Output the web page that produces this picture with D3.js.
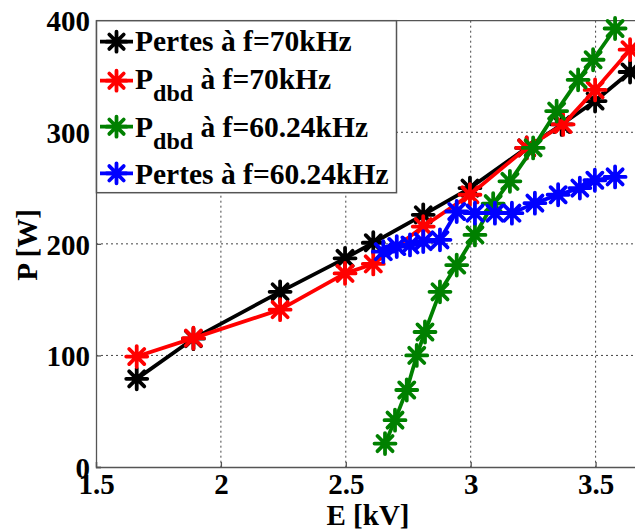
<!DOCTYPE html>
<html><head><meta charset="utf-8">
<script src="https://cdn.jsdelivr.net/npm/d3@7/dist/d3.min.js"></script>
<style>body{margin:0;background:#fff}svg{display:block}</style>
</head><body>
<script>
// data
const pertes70E = [1.663, 1.89, 2.237, 2.497, 2.61, 2.81, 2.997, 3.224, 3.364, 3.498, 3.638];
const pertes70P = [79, 115, 157, 187, 201, 226, 250, 286, 307, 328, 354];
const pdbd70E = [1.663, 1.89, 2.237, 2.497, 2.61, 2.81, 2.997, 3.224, 3.37, 3.498, 3.638];
const pdbd70P = [99, 115.5, 141, 173.5, 182, 215.5, 244, 286, 307, 338, 374];
const pdbd60E = [2.657, 2.697, 2.744, 2.784, 2.817, 2.877, 2.944, 3.017, 3.09, 3.157, 3.25, 3.344, 3.43, 3.49, 3.578];
const pdbd60P = [21, 42, 69, 100, 121, 157, 181, 208, 236, 256, 286, 319, 347, 365, 393];
const pertes60E = [2.65, 2.704, 2.757, 2.81, 2.877, 2.944, 3.017, 3.097, 3.165, 3.257, 3.35, 3.437, 3.497, 3.578];
const pertes60P = [193, 197.6, 199, 202, 203.6, 229, 227.5, 227.5, 227.5, 236.5, 244, 250, 257, 260];
const xTicks = [1.5, 2, 2.5, 3, 3.5];
const yTicks = [0, 100, 200, 300, 400];
const seriesNames = ["Pertes à f=70kHz", "Pdbd à f=70kHz", "Pdbd à f=60.24kHz", "Pertes à f=60.24kHz"];
const seriesColors = ["#000000", "#ff0000", "#008000", "#0000ff"];

const series = [
  {name: "Pertes", sub: null, rest: " à f=70kHz", E: pertes70E, P: pertes70P, color: seriesColors[0]},
  {name: "P", sub: "dbd", rest: " à f=70kHz", E: pdbd70E, P: pdbd70P, color: seriesColors[1]},
  {name: "P", sub: "dbd", rest: " à f=60.24kHz", E: pdbd60E, P: pdbd60P, color: seriesColors[2]},
  {name: "Pertes", sub: null, rest: " à f=60.24kHz", E: pertes60E, P: pertes60P, color: seriesColors[3]}
];

const W = 635, H = 530;
const L = 96, T = 20.7, B = 467;
const x = d3.scaleLinear().domain([1.5, 3.67]).range([L, L + 2.17 * 249.8]);
const y = d3.scaleLinear().domain([0, 400]).range([B, T]);
const font = "'Liberation Serif','Times New Roman',serif";

const svg = d3.select("body").append("svg").attr("width", W).attr("height", H);

// grid
const grid = svg.append("g");
grid.selectAll("line.gx").data(xTicks.filter(t => t > 1.5)).join("line")
  .attr("x1", d => x(d)).attr("x2", d => x(d)).attr("y1", T).attr("y2", B)
  .attr("stroke", "#444").attr("stroke-width", 1).attr("stroke-dasharray", "2,3");
grid.selectAll("line.gy").data(yTicks.filter(t => t > 0 && t < 400)).join("line")
  .attr("x1", L).attr("x2", W + 5).attr("y1", d => y(d)).attr("y2", d => y(d))
  .attr("stroke", "#444").attr("stroke-width", 1).attr("stroke-dasharray", "2,3");

// axes
const xAxis = d3.axisBottom(x).tickValues(xTicks).tickSize(-5).tickPadding(9).tickFormat(d3.format("~g"));
const gx = svg.append("g").attr("transform", `translate(0,${B})`).call(xAxis);
const yAxis = d3.axisLeft(y).tickValues(yTicks).tickSize(-5).tickPadding(6);
const gy = svg.append("g").attr("transform", `translate(${L},0)`).call(yAxis);
[gx, gy].forEach(g => {
  g.select(".domain").attr("stroke", "#555").attr("stroke-width", 1.3);
  g.selectAll(".tick line").attr("stroke", "#555").attr("stroke-width", 1.3);
  g.selectAll(".tick text").attr("font-family", font).attr("font-weight", "bold")
    .attr("font-size", 29).attr("fill", "#000");
});
gx.selectAll(".tick text").attr("dy", "0.62em");
gy.selectAll(".tick text").attr("dy", "0.35em");
// top border
svg.append("line").attr("x1", L).attr("x2", W + 5).attr("y1", T).attr("y2", T)
  .attr("stroke", "#555").attr("stroke-width", 1.3);

// star marker
function starPath(r) {
  const d = r * 0.72;
  return `M${-r},0L${r},0M0,${-r}L0,${r}M${-d},${-d}L${d},${d}M${-d},${d}L${d},${-d}`;
}

const plot = svg.append("g");
const line = d3.line().x(d => x(d[0])).y(d => y(d[1]));
series.forEach(s => {
  const pts = s.E.map((e, i) => [e, s.P[i]]);
  const g = plot.append("g");
  g.append("path").datum(pts).attr("d", line).attr("fill", "none")
    .attr("stroke", s.color).attr("stroke-width", 3.8).attr("stroke-linejoin", "round");
  g.selectAll("path.m").data(pts).join("path").attr("class", "m")
    .attr("transform", d => `translate(${x(d[0])},${y(d[1])})`)
    .attr("d", starPath(10.5)).attr("stroke", s.color).attr("stroke-width", 3.8)
    .attr("stroke-linecap", "round").attr("fill", "none");
});

// legend
const lg = svg.append("g");
lg.append("rect").attr("x", L + 0.5).attr("y", T).attr("width", 300).attr("height", 172)
  .attr("fill", "#fff").attr("stroke", "#555").attr("stroke-width", 1.5);
const rowY = [41.7, 80.7, 126.7, 173.3];
const baseY = [51, 89, 136.5, 184];
series.forEach((s, i) => {
  lg.append("line").attr("x1", 100).attr("x2", 133).attr("y1", rowY[i]).attr("y2", rowY[i])
    .attr("stroke", s.color).attr("stroke-width", 3.8);
  lg.append("path").attr("transform", `translate(116.5,${rowY[i]})`).attr("d", starPath(10))
    .attr("stroke", s.color).attr("stroke-width", 3.8).attr("stroke-linecap", "round").attr("fill", "none");
  const t = lg.append("text").attr("x", 135).attr("y", baseY[i])
    .attr("font-family", font).attr("font-weight", "bold").attr("font-size", 29.5).attr("fill", "#000");
  t.append("tspan").text(s.name);
  if (s.sub) {
    t.append("tspan").attr("dy", 12).attr("font-size", 24).text(s.sub);
    t.append("tspan").attr("dy", -12).text(s.rest);
  } else {
    t.append("tspan").text(s.rest);
  }
});

// axis titles
svg.append("text").attr("x", 368).attr("y", 525).attr("text-anchor", "middle")
  .attr("font-family", font).attr("font-weight", "bold").attr("font-size", 29).text("E [kV]");
svg.append("text").attr("transform", "translate(37,245) rotate(-90)").attr("text-anchor", "middle")
  .attr("font-family", font).attr("font-weight", "bold").attr("font-size", 29).text("P [W]");
</script>
</body></html>
